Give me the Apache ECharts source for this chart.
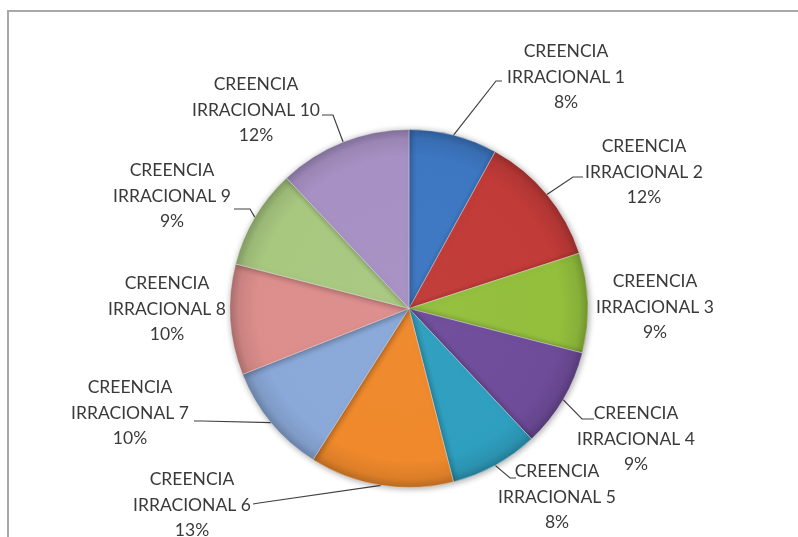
<!DOCTYPE html>
<html>
<head>
<meta charset="utf-8">
<script src="https://cdn.jsdelivr.net/npm/echarts@6/dist/echarts.min.js"></script>
<style>
  html, body { margin: 0; padding: 0; background: #ffffff; }
  #chart { width: 798px; height: 537px; }
</style>
</head>
<body>
<div id="chart"></div>
<script>
// ---- data ----
var categories = [
  'CREENCIA IRRACIONAL 1', 'CREENCIA IRRACIONAL 2', 'CREENCIA IRRACIONAL 3',
  'CREENCIA IRRACIONAL 4', 'CREENCIA IRRACIONAL 5', 'CREENCIA IRRACIONAL 6',
  'CREENCIA IRRACIONAL 7', 'CREENCIA IRRACIONAL 8', 'CREENCIA IRRACIONAL 9',
  'CREENCIA IRRACIONAL 10'
];
var values = [8, 12, 9, 9, 8, 13, 10, 10, 9, 12];

// ---- styles / label placement ----
var colors = ['#3d77c2', '#c13b38', '#93bf3d', '#6f4c9a', '#2f9fbf',
              '#ef892c', '#8aa8d8', '#dc8e8c', '#a8c880', '#a791c4'];
var labelCenters = [[566, 77], [644, 172], [655, 307], [636, 439], [557, 497],
                    [192, 505], [130, 413], [167, 309], [172, 196], [256, 110]];
var leaderBends = [[496, 81], [573, 177], null, [582, 419], [510, 478],
                   [259, 503], [202, 421], null, [250, 209], [333, 115]];
var leaderEnds = [[502, 81], [583, 177], null, [594, 419], [516, 478],
                  [253, 504], [194, 421], null, [234, 209], [322, 115]];

var CX = 409, CY = 308.5, R = 179;

function shade(hex, f) {
  var n = parseInt(hex.slice(1), 16);
  var r = (n >> 16) & 255, g = (n >> 8) & 255, b = n & 255;
  function c(v) { return Math.max(0, Math.min(255, Math.round(f >= 0 ? v + (255 - v) * f : v * (1 + f)))); }
  return 'rgb(' + c(r) + ',' + c(g) + ',' + c(b) + ')';
}

var seriesData = categories.map(function (name, i) {
  var base = colors[i];
  return {
    name: name,
    value: values[i],
    labelLine: { show: leaderEnds[i] !== null },
    itemStyle: {
      color: {
        type: 'radial', x: CX, y: CY, r: R, global: true,
        colorStops: [
          { offset: 0, color: shade(base, 0.02) },
          { offset: 0.85, color: base },
          { offset: 0.95, color: shade(base, -0.08) },
          { offset: 1, color: shade(base, -0.22) }
        ]
      }
    }
  };
});

var chart = echarts.init(document.getElementById('chart'), null, { renderer: 'canvas' });
chart.setOption({
  backgroundColor: '#ffffff',
  animation: false,
  graphic: [{
    type: 'rect',
    shape: { x: 8, y: 11, width: 820, height: 560 },
    style: { fill: 'none', stroke: '#a8a8a8', lineWidth: 2 },
    z: -1
  }],
  series: [{
    type: 'pie',
    center: [CX, CY],
    radius: R,
    startAngle: 90,
    clockwise: true,
    percentPrecision: 0,
    data: seriesData,
    itemStyle: {
      borderColor: 'rgba(255,255,255,0.35)',
      borderWidth: 1,
      shadowBlur: 6,
      shadowColor: 'rgba(0,0,0,0.35)',
      shadowOffsetX: 1,
      shadowOffsetY: 1
    },
    label: {
      show: true,
      position: 'outside',
      fontFamily: 'Lato',
      fontSize: 17.5,
      lineHeight: 25.5,
      color: '#3a3a3a',
      formatter: function (p) {
        return p.name.replace('CREENCIA ', 'CREENCIA\n') + '\n' + p.percent + '%';
      }
    },
    labelLine: {
      show: true,
      lineStyle: { color: '#404040', width: 1.2 }
    },
    labelLayout: function (params) {
      var i = params.dataIndex;
      var out = {
        x: labelCenters[i][0],
        y: labelCenters[i][1],
        align: 'center',
        verticalAlign: 'middle'
      };
      if (leaderEnds[i] && params.labelLinePoints) {
        out.labelLinePoints = [params.labelLinePoints[0], leaderBends[i], leaderEnds[i]];
      }
      return out;
    }
  }]
});
</script>
</body>
</html>
